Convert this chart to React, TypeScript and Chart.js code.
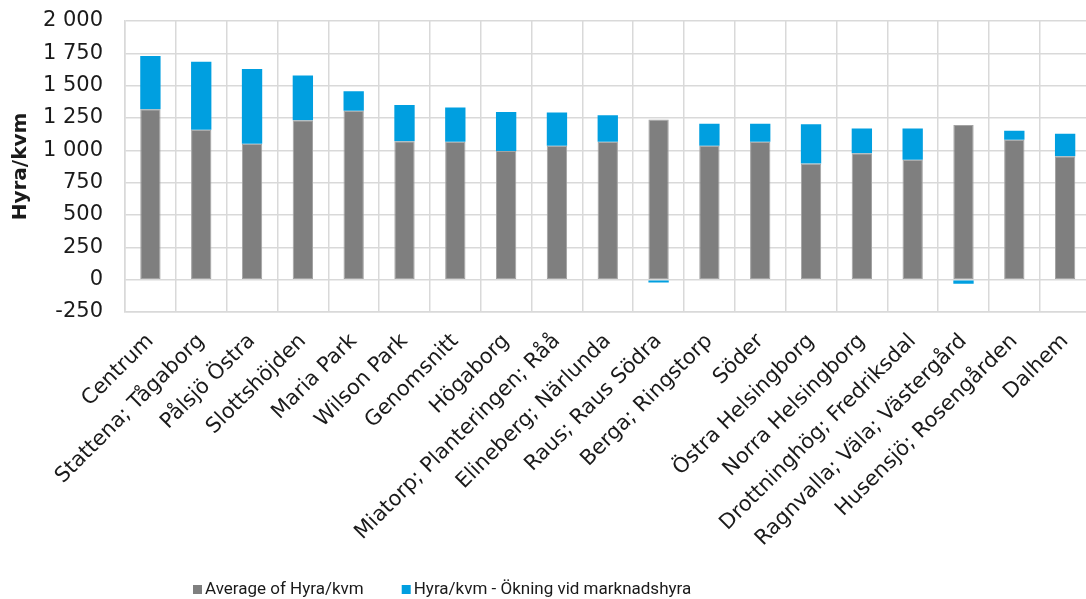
import React, { useEffect, useRef } from 'react';
import { Chart, registerables } from 'chart.js';

Chart.register(...registerables);

const categories = [
  'Centrum',
  'Stattena; Tågaborg',
  'Pålsjö Östra',
  'Slottshöjden',
  'Maria Park',
  'Wilson Park',
  'Genomsnitt',
  'Högaborg',
  'Miatorp; Planteringen; Råå',
  'Elineberg; Närlunda',
  'Raus; Raus Södra',
  'Berga; Ringstorp',
  'Söder',
  'Östra Helsingborg',
  'Norra Helsingborg',
  'Drottninghög; Fredriksdal',
  'Ragnvalla; Väla; Västergård',
  'Husensjö; Rosengården',
  'Dalhem',
];

const averageRent = [1317, 1160, 1051, 1232, 1307, 1071, 1067, 994, 1036, 1067, 1238, 1036, 1067, 898, 978, 927, 1196, 1082, 955];
const marketIncrease = [412, 525, 577, 347, 150, 280, 264, 303, 256, 204, -22, 170, 139, 303, 190, 241, -32, 70, 174];

const seriesNames = ['Average of Hyra/kvm', 'Hyra/kvm - Ökning vid marknadshyra'];
const seriesColors = ['#7f7f7f', '#009fe0'];
const seriesEdges = ['#a3a3a3', '#5cc3ee'];

const yAxisTitle = 'Hyra/kvm';
const yMin = -250;
const yMax = 2000;
const yStep = 250;

const TEXT = '#1a1a1a';
const GRID = '#d9d9d9';
const AXIS_FONT = 'DejaVu Sans';
const LEGEND_FONT = 'Roboto';

function formatTick(v: number): string {
  const sign = v < 0 ? '-' : '';
  const s = String(Math.abs(v)).replace(/\B(?=(\d{3})+(?!\d))/g, ' ');
  return sign + s;
}

const legendPlugin = {
  id: 'customLegend',
  afterDraw(chart: any) {
    const ctx = chart.ctx as CanvasRenderingContext2D;
    ctx.save();
    ctx.font = `17px ${LEGEND_FONT}`;
    ctx.textBaseline = 'alphabetic';
    ctx.textAlign = 'left';
    const baseline = 594;
    let x = 193;
    chart.data.datasets.forEach((ds: any) => {
      ctx.fillStyle = ds.backgroundColor;
      ctx.fillRect(x, baseline - 9, 9, 9);
      x += 12;
      ctx.fillStyle = TEXT;
      ctx.fillText(ds.label, x, baseline);
      x += ctx.measureText(ds.label).width + 38;
    });
    ctx.restore();
  },
};

export default function App() {
  const ref = useRef<HTMLCanvasElement | null>(null);

  useEffect(() => {
    if (!ref.current) return;
    const chart = new Chart(ref.current, {
      type: 'bar',
      data: {
        labels: categories,
        datasets: [
          {
            label: seriesNames[0],
            data: averageRent,
            backgroundColor: seriesColors[0],
            borderColor: seriesEdges[0],
            borderWidth: 1,
            borderSkipped: false,
            barPercentage: 0.4,
            categoryPercentage: 1,
          },
          {
            label: seriesNames[1],
            data: marketIncrease,
            backgroundColor: seriesColors[1],
            borderColor: seriesEdges[1],
            borderWidth: 0,
            barPercentage: 0.4,
            categoryPercentage: 1,
          },
        ],
      },
      options: {
        responsive: false,
        animation: false,
        layout: { padding: { top: 21, right: 2, bottom: 0, left: 0 } },
        plugins: {
          legend: { display: false },
          tooltip: { enabled: false },
        },
        scales: {
          x: {
            stacked: true,
            grid: { color: GRID, lineWidth: 1.5, drawTicks: false, offset: true },
            border: { color: GRID, width: 1.5 },
            ticks: {
              autoSkip: false,
              minRotation: 45,
              maxRotation: 45,
              padding: 17,
              color: TEXT,
              font: { family: AXIS_FONT, size: 21 },
            },
            afterFit(scale: any) {
              scale.height = 599 - 312;
            },
          },
          y: {
            stacked: true,
            min: yMin,
            max: yMax,
            grid: { color: GRID, lineWidth: 1.5, drawTicks: false },
            border: { color: GRID, width: 1.5 },
            ticks: {
              stepSize: yStep,
              padding: 22,
              color: TEXT,
              font: { family: AXIS_FONT, size: 21 },
              callback: (v: any) => formatTick(Number(v)),
            },
            title: {
              display: true,
              text: yAxisTitle,
              color: TEXT,
              font: { family: AXIS_FONT, size: 20, weight: 'bold' },
              padding: { top: 9, bottom: 0 },
            },
            afterFit(scale: any) {
              scale.width = 125;
              scale.paddingTop = 0;
              scale.paddingBottom = 0;
            },
          },
        },
      },
      plugins: [legendPlugin],
    });
    return () => chart.destroy();
  }, []);

  return (
    <div
      style={{
        position: 'fixed',
        left: 0,
        top: 0,
        width: 1086,
        height: 599,
        overflow: 'hidden',
        background: '#ffffff',
      }}
    >
      <canvas ref={ref} width={1100} height={599} style={{ display: 'block' }} />
    </div>
  );
}
